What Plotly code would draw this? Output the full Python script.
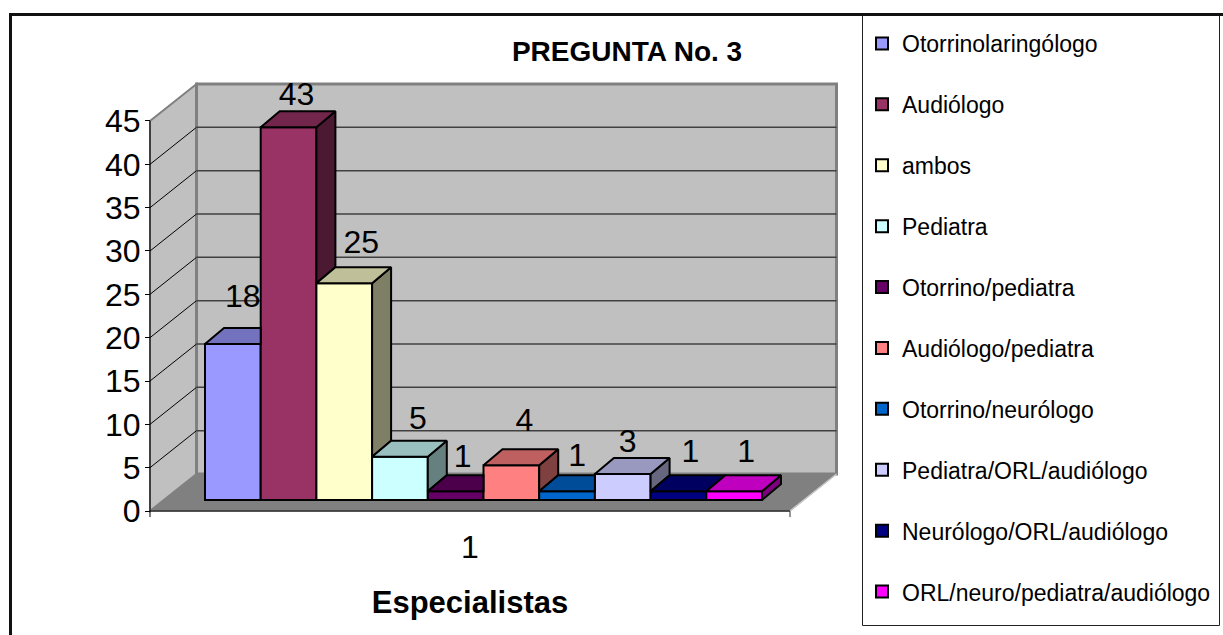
import plotly.graph_objects as go

# ---- data ----
categories = ["Otorrinolaringólogo", "Audiólogo", "ambos", "Pediatra", "Otorrino/pediatra",
              "Audiólogo/pediatra", "Otorrino/neurólogo", "Pediatra/ORL/audiólogo",
              "Neurólogo/ORL/audiólogo", "ORL/neuro/pediatra/audiólogo"]
values = [18, 43, 25, 5, 1, 4, 1, 3, 1, 1]
y_ticks = list(range(0, 50, 5))
x_tick_label = "1"
title_text = "PREGUNTA No. 3"
x_title = "Especialistas"

# ---- styles ----
colors = ["#9999FF", "#993366", "#FFFFCC", "#CCFFFF", "#660066",
          "#FF8080", "#0066CC", "#CCCCFF", "#000080", "#FF00FF"]
FONT = "Liberation Sans, Arial, sans-serif"
W, H = 1223, 635

# ---- layout geometry: axis units ----
PX_X = 640.0       # pixels per category
PX_Y = 8.667       # pixels per value unit
X0_PX, Y0_PX = 470.0, 511.0   # pixel of category centre / value 0
x_range = [1 - X0_PX / PX_X, 1 + X0_PX / PX_X]
x_domain = [0, 2 * X0_PX / W]
y_range = [(Y0_PX - H) / PX_Y, Y0_PX / PX_Y]
FL, FR = 0.5, 1.5              # floor front edge
WALL_DX, WALL_DY = 46.5 / PX_X, 37.0 / PX_Y
BAR_W = 55.7 / PX_X
BAR_X0 = 1 + (205 - X0_PX) / PX_X
BAR_BASE = 11.0 / PX_Y
BAR_DX, BAR_DY = 19.0 / PX_X, 16.0 / PX_Y
TOP = y_ticks[-1]

# data-label nudges (label anchor relative to the bar)
label_dx_px = [10, 8, 17, 18, 7, 13, 10, 5, 12, 12]
label_dy = [6.45, 4.75, 5.65, 5.35, 4.95, 6.15, 5.15, 4.75, 5.55, 5.55]


def shade(hex_color, k):
    r, g, b = (int(hex_color[i:i + 2], 16) for i in (1, 3, 5))
    return f"rgb({int(r * k)},{int(g * k)},{int(b * k)})"


def poly_path(pts):
    return "M" + " L".join(f"{x},{y}" for x, y in pts) + " Z"


fig = go.Figure()
shapes = []


def wall(pts, fill, line, width):
    shapes.append(dict(type="path", path=poly_path(pts), xref="x", yref="y", layer="below",
                       fillcolor=fill, line=dict(color=line, width=width)))


def seg(x0, y0, x1, y1, color, width, layer="below"):
    shapes.append(dict(type="line", x0=x0, y0=y0, x1=x1, y1=y1, xref="x", yref="y", layer=layer,
                       line=dict(color=color, width=width)))


# floor, left wall, back wall
wall([(FL, 0), (FR, 0), (FR + WALL_DX, WALL_DY), (FL + WALL_DX, WALL_DY)], "#808080", "#808080", 1)
wall([(FL, 0), (FL + WALL_DX, WALL_DY), (FL + WALL_DX, TOP + WALL_DY), (FL, TOP)], "#C0C0C0", "#808080", 2)
wall([(FL + WALL_DX, WALL_DY), (FR + WALL_DX, WALL_DY), (FR + WALL_DX, TOP + WALL_DY), (FL + WALL_DX, TOP + WALL_DY)],
     "#C0C0C0", "#808080", 3)
for t in y_ticks[1:-1]:
    seg(FL, t, FL + WALL_DX, t + WALL_DY, "#000000", 1)
    seg(FL + WALL_DX, t + WALL_DY, FR + WALL_DX, t + WALL_DY, "#404040", 1.5)
seg(FL, 0, FR, 0, "#303030", 1.5)
seg(FL, -0.7, FL, TOP, "#000000", 1)
seg(FR, -0.7, FR, 0, "#303030", 1)
seg(FR, 0, FR + WALL_DX, WALL_DY, "#C8C8C8", 1.5)

# front faces: real bars
for i, (name, v, c) in enumerate(zip(categories, values, colors)):
    fig.add_trace(go.Bar(
        x=[BAR_X0 + BAR_W * (i + 0.5)], y=[v], base=[BAR_BASE], width=[BAR_W], name=name,
        legendgroup=name, marker=dict(color=c, line=dict(color="#000000", width=2)),
        hoverinfo="name+y"))

# top and side faces, derived from the values, trimmed where the next bar stands in front
for i, (v, c) in enumerate(zip(values, colors)):
    xl = BAR_X0 + BAR_W * i
    xr = xl + BAR_W
    h = v + BAR_BASE
    nxt = values[i + 1] if i + 1 < len(values) else 0
    nh = nxt + BAR_BASE if nxt else BAR_BASE
    if nxt > v:
        top = [(xl, h), (xr, h), (xr, h + BAR_DY), (xl + BAR_DX, h + BAR_DY)]
        side = None
    else:
        top = [(xl, h), (xr, h), (xr + BAR_DX, h + BAR_DY), (xl + BAR_DX, h + BAR_DY)]
        side = [(xr, nh), (xr + BAR_DX, nh + BAR_DY), (xr + BAR_DX, h + BAR_DY), (xr, h)] if nxt != v else None
    for pts, k in ((side, 0.5), (top, 0.75)):
        if pts:
            xs, ys = zip(*(pts + pts[:1]))
            fig.add_trace(go.Scatter(x=xs, y=ys, mode="lines", fill="toself", fillcolor=shade(c, k),
                                     line=dict(color="#000000", width=2), showlegend=False,
                                     hoverinfo="skip", cliponaxis=False))

# data labels
fig.add_trace(go.Scatter(
    x=[BAR_X0 + BAR_W * (i + 0.5) + label_dx_px[i] / PX_X for i in range(len(values))],
    y=[v + d for v, d in zip(values, label_dy)],
    mode="text", text=[str(v) for v in values], textposition="middle center",
    textfont=dict(family=FONT, size=32, color="#000000"), showlegend=False, hoverinfo="skip", cliponaxis=False))

# outer frame
frame = [
    dict(x0=10.5 / W, x1=10.5 / W, y0=0, y1=1 - 14.5 / H),
    dict(x0=9 / W, x1=1, y0=1 - 14.5 / H, y1=1 - 14.5 / H),
]
for f in frame:
    shapes.append(dict(type="line", xref="paper", yref="paper", layer="above",
                       line=dict(color="#111111", width=3), **f))
# legend box
shapes.append(dict(type="rect", xref="paper", yref="paper", layer="below",
                   x0=862.5 / W, x1=1219.5 / W, y0=1 - 625.5 / H, y1=1 - 15 / H,
                   fillcolor="#FFFFFF", line=dict(color="#222222", width=1)))

fig.update_layout(
    width=W, height=H, autosize=False, margin=dict(l=0, r=0, t=0, b=0),
    paper_bgcolor="#FFFFFF", plot_bgcolor="rgba(0,0,0,0)", barmode="overlay",
    font=dict(family=FONT, color="#000000"), shapes=shapes,
    title=dict(text=f"<b>{title_text}</b>", x=627 / W, xanchor="center", xref="paper",
               y=1 - 51 / H, yanchor="middle", yref="paper",
               font=dict(family=FONT, size=28, color="#000000")),
    xaxis=dict(domain=x_domain, range=x_range, anchor="free", position=(H - Y0_PX) / H, tickmode="array", tickvals=[1],
               ticktext=[x_tick_label], ticks="", ticklabelstandoff=14, showgrid=False, zeroline=False,
               showline=False, fixedrange=True, tickfont=dict(family=FONT, size=32, color="#000000"),
               title=dict(text=f"<b>{x_title}</b>", standoff=27, font=dict(family=FONT, size=31, color="#000000"))),
    yaxis=dict(range=y_range, anchor="free", position=150 / W, tickmode="array", tickvals=y_ticks,
               ticks="outside", ticklen=5, tickcolor="#000000", tickwidth=1, showgrid=False, zeroline=False,
               ticklabelstandoff=-2,
               showline=False, fixedrange=True, tickfont=dict(family=FONT, size=32, color="#000000")),
    legend=dict(x=862 / W, y=1 - 22 / H, xanchor="left", yanchor="top", bgcolor="rgba(0,0,0,0)",
                borderwidth=0, tracegroupgap=28, traceorder="grouped",
                entrywidth=345, entrywidthmode="pixels", itemclick=False, itemdoubleclick=False,
                font=dict(family=FONT, size=23, color="#000000")),
    showlegend=True,
)

fig.write_html("out.html", config={"displayModeBar": False},
               post_script="document.body.style.margin='0';")
